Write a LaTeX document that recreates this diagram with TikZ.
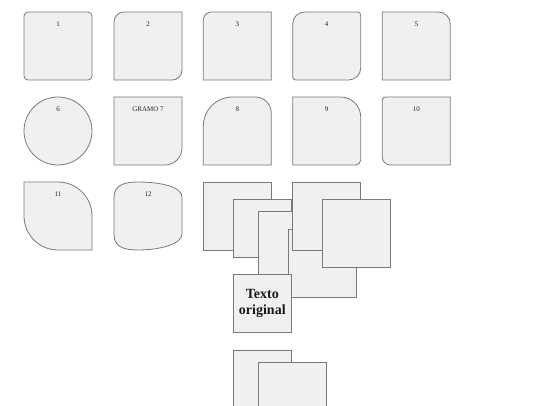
\documentclass[tikz,border=0pt]{standalone}
\usepackage{fontspec}
\setmainfont{Liberation Serif}
\definecolor{shfill}{RGB}{241,240,239}
\definecolor{shdraw}{RGB}{122,122,122}
\tikzset{
  shp/.style={fill=shfill,draw=shdraw,line width=0.8pt},
  sq/.style={shp,rectangle,anchor=north west,inner sep=0pt,outer sep=0pt},
  lbl/.style={font=\fontsize{7}{8}\selectfont,inner sep=0pt,text=black!85},
  big/.style={font=\fontsize{14}{15.5}\selectfont\bfseries,align=center,text=black!90}
}
% x0 y0 w h rTL rTR rBR rBL
\newcommand\mybox[8]{%
\path[shp] ({#1+#5},#2) -- ({#1+#3-#6},#2)
 .. controls ({#1+#3-0.4477*#6},#2) and ({#1+#3},{#2+0.4477*#6}) .. ({#1+#3},{#2+#6})
 -- ({#1+#3},{#2+#4-#7})
 .. controls ({#1+#3},{#2+#4-0.4477*#7}) and ({#1+#3-0.4477*#7},{#2+#4}) .. ({#1+#3-#7},{#2+#4})
 -- ({#1+#8},{#2+#4})
 .. controls ({#1+0.4477*#8},{#2+#4}) and (#1,{#2+#4-0.4477*#8}) .. (#1,{#2+#4-#8})
 -- (#1,{#2+#5})
 .. controls (#1,{#2+0.4477*#5}) and ({#1+0.4477*#5},#2) .. ({#1+#5},#2) -- cycle;}
\begin{document}
\begin{tikzpicture}[x=1pt,y=-1pt]
\useasboundingbox (0,0) rectangle (540,405);
% row 1
\mybox{24}{12}{68}{68}{4}{4}{4}{4}
\node[lbl] (l1) at (58,24) {1};
\mybox{114}{12}{68}{68}{10}{0}{10}{0}
\node[lbl] (l2) at (148,24) {2};
\mybox{203.3}{12}{68}{68}{8}{0}{0}{0}
\node[lbl] (l3) at (237.3,24) {3};
\mybox{292.7}{12}{68}{68}{12}{3}{12}{3}
\node[lbl] (l4) at (326.7,24) {4};
\mybox{382.3}{12}{68}{68}{0}{12}{0}{0}
\node[lbl] (l5) at (416.3,24) {5};
% row 2
\path[shp] (58,131) circle[radius=34];
\node[lbl] (l6) at (58,109.5) {6};
\mybox{114}{97}{68}{68}{0}{0}{17}{0}
\node[lbl] (l7) at (148,109.5) {GRAMO 7};
\mybox{203.3}{97}{68}{68}{29}{16}{0}{0}
\node[lbl] (l8) at (237.3,109.5) {8};
\mybox{292.7}{97}{68}{68}{0}{20}{5}{0}
\node[lbl] (l9) at (326.7,109.5) {9};
\mybox{382.3}{97}{68}{68}{3}{0}{0}{8}
\node[lbl] (l10) at (416.3,109.5) {10};
% row 3
\mybox{24}{182}{68}{68}{0}{34}{0}{34}
\node[lbl] (l11) at (58,194.5) {11};
\path[shp] (114,198) .. controls (114,185) and (124,182) .. (138,182)
  .. controls (158,182) and (182,186) .. (182,197) -- (182,234)
  .. controls (182,244) and (160,250) .. (138,250)
  .. controls (122,250) and (114,246) .. (114,234) -- cycle;
\node[lbl] (l12) at (148,194.5) {12};
% stacked squares
\node[sq,minimum width=68pt,minimum height=68pt] (rA) at (203.3,182.3) {};
\node[sq,minimum width=58pt,minimum height=58pt] (rB) at (233.3,199.3) {};
\node[sq,minimum width=68pt,minimum height=68pt] (rC) at (258.3,211.7) {};
\node[sq,minimum width=68pt,minimum height=68pt] (rD) at (288.3,229.3) {};
\node[sq,minimum width=68pt,minimum height=68pt] (rE) at (292.7,182.3) {};
\node[sq,minimum width=68pt,minimum height=68pt] (rF) at (322.7,199.3) {};
\node[sq,minimum width=58pt,minimum height=58pt] (rT) at (233.3,274.3) {};
\node[big] (txt) at (rT.center) {Texto\\original};
\node[sq,minimum width=58pt,minimum height=58pt] (rG) at (233.3,350) {};
\node[sq,minimum width=68pt,minimum height=68pt] (rH) at (258.3,362.3) {};
\end{tikzpicture}
\end{document}
